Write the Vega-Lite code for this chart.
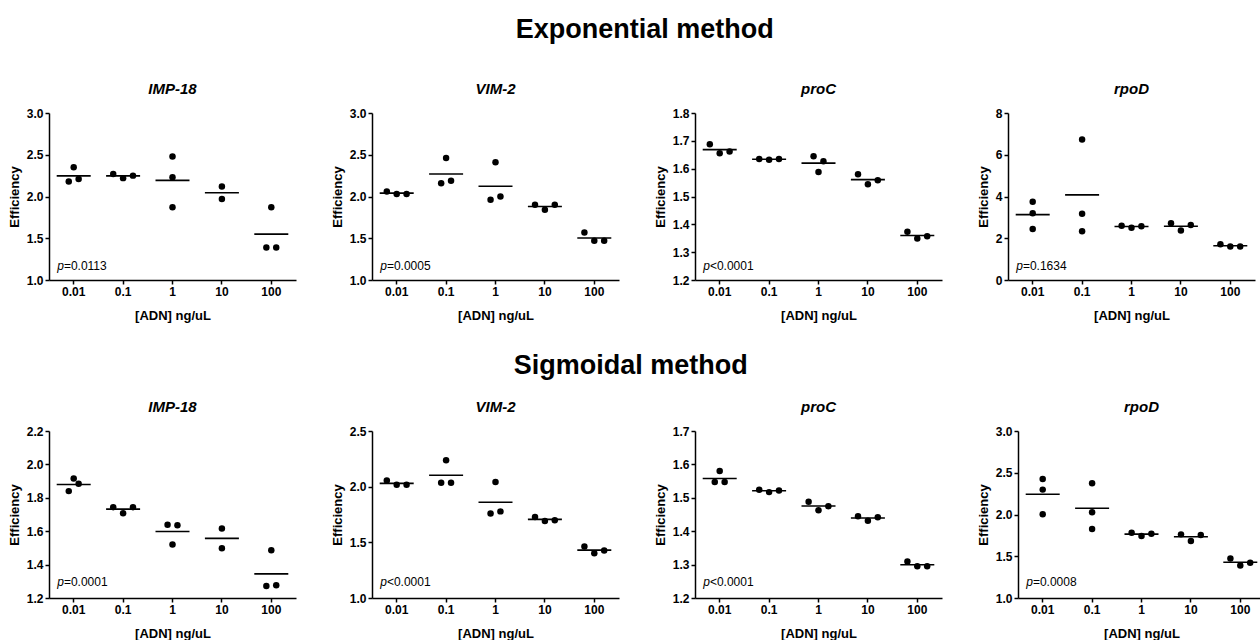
{
"$schema":"https://vega.github.io/schema/vega-lite/v6.json",
"background":"white",
"padding":{"left":8,"top":16,"right":0,"bottom":0},
"config":{"font":"Liberation Sans","view":{"stroke":null},
 "title":{"fontSize":15,"fontStyle":"italic","fontWeight":"bold","color":"black","offset":10,"anchor":"middle"},
 "axis":{"grid":false,"labelOverlap":false,"domainColor":"black","domainWidth":1.5,"tickColor":"black","tickWidth":1.5,"tickSize":4,"labelFontSize":12,"labelFontWeight":"bold","labelColor":"black","labelPadding":2,"titleFontSize":13,"titleFontWeight":"bold","titleColor":"black"},
 "axisX":{"labelAngle":0,"titlePadding":12},
 "axisY":{"titlePadding":5}},
"datasets":{
"pts":[
{"m":"E","g":"IMP-18","c":"0.01","v":2.35,"k":0},{"m":"E","g":"IMP-18","c":"0.01","v":2.18,"k":-1},{"m":"E","g":"IMP-18","c":"0.01","v":2.21,"k":1},
{"m":"E","g":"IMP-18","c":"0.1","v":2.27,"k":-2},{"m":"E","g":"IMP-18","c":"0.1","v":2.22,"k":0},{"m":"E","g":"IMP-18","c":"0.1","v":2.25,"k":2},
{"m":"E","g":"IMP-18","c":"1","v":2.48,"k":0},{"m":"E","g":"IMP-18","c":"1","v":2.23,"k":0},{"m":"E","g":"IMP-18","c":"1","v":1.87,"k":0},
{"m":"E","g":"IMP-18","c":"10","v":2.12,"k":0},{"m":"E","g":"IMP-18","c":"10","v":1.97,"k":0},
{"m":"E","g":"IMP-18","c":"100","v":1.87,"k":0},{"m":"E","g":"IMP-18","c":"100","v":1.39,"k":-1},{"m":"E","g":"IMP-18","c":"100","v":1.39,"k":1},
{"m":"E","g":"VIM-2","c":"0.01","v":2.06,"k":-2},{"m":"E","g":"VIM-2","c":"0.01","v":2.03,"k":0},{"m":"E","g":"VIM-2","c":"0.01","v":2.03,"k":2},
{"m":"E","g":"VIM-2","c":"0.1","v":2.46,"k":0},{"m":"E","g":"VIM-2","c":"0.1","v":2.16,"k":-1},{"m":"E","g":"VIM-2","c":"0.1","v":2.19,"k":1},
{"m":"E","g":"VIM-2","c":"1","v":2.41,"k":0},{"m":"E","g":"VIM-2","c":"1","v":1.96,"k":-1},{"m":"E","g":"VIM-2","c":"1","v":2.0,"k":1},
{"m":"E","g":"VIM-2","c":"10","v":1.9,"k":-2},{"m":"E","g":"VIM-2","c":"10","v":1.84,"k":0},{"m":"E","g":"VIM-2","c":"10","v":1.9,"k":2},
{"m":"E","g":"VIM-2","c":"100","v":1.57,"k":-2},{"m":"E","g":"VIM-2","c":"100","v":1.47,"k":0},{"m":"E","g":"VIM-2","c":"100","v":1.47,"k":2},
{"m":"E","g":"proC","c":"0.01","v":1.688,"k":-2},{"m":"E","g":"proC","c":"0.01","v":1.655,"k":0},{"m":"E","g":"proC","c":"0.01","v":1.662,"k":2},
{"m":"E","g":"proC","c":"0.1","v":1.635,"k":-2},{"m":"E","g":"proC","c":"0.1","v":1.632,"k":0},{"m":"E","g":"proC","c":"0.1","v":1.635,"k":2},
{"m":"E","g":"proC","c":"1","v":1.645,"k":-1},{"m":"E","g":"proC","c":"1","v":1.627,"k":1},{"m":"E","g":"proC","c":"1","v":1.588,"k":0},
{"m":"E","g":"proC","c":"10","v":1.58,"k":-2},{"m":"E","g":"proC","c":"10","v":1.544,"k":0},{"m":"E","g":"proC","c":"10","v":1.558,"k":2},
{"m":"E","g":"proC","c":"100","v":1.373,"k":-2},{"m":"E","g":"proC","c":"100","v":1.349,"k":0},{"m":"E","g":"proC","c":"100","v":1.357,"k":2},
{"m":"E","g":"rpoD","c":"0.01","v":3.75,"k":0},{"m":"E","g":"rpoD","c":"0.01","v":3.2,"k":0},{"m":"E","g":"rpoD","c":"0.01","v":2.44,"k":0},
{"m":"E","g":"rpoD","c":"0.1","v":6.73,"k":0},{"m":"E","g":"rpoD","c":"0.1","v":3.17,"k":0},{"m":"E","g":"rpoD","c":"0.1","v":2.34,"k":0},
{"m":"E","g":"rpoD","c":"1","v":2.6,"k":-2},{"m":"E","g":"rpoD","c":"1","v":2.5,"k":0},{"m":"E","g":"rpoD","c":"1","v":2.58,"k":2},
{"m":"E","g":"rpoD","c":"10","v":2.72,"k":-2},{"m":"E","g":"rpoD","c":"10","v":2.37,"k":0},{"m":"E","g":"rpoD","c":"10","v":2.63,"k":2},
{"m":"E","g":"rpoD","c":"100","v":1.71,"k":-2},{"m":"E","g":"rpoD","c":"100","v":1.6,"k":0},{"m":"E","g":"rpoD","c":"100","v":1.61,"k":2},
{"m":"S","g":"IMP-18","c":"0.01","v":1.916,"k":0},{"m":"S","g":"IMP-18","c":"0.01","v":1.84,"k":-1},{"m":"S","g":"IMP-18","c":"0.01","v":1.884,"k":1},
{"m":"S","g":"IMP-18","c":"0.1","v":1.744,"k":-2},{"m":"S","g":"IMP-18","c":"0.1","v":1.708,"k":0},{"m":"S","g":"IMP-18","c":"0.1","v":1.744,"k":2},
{"m":"S","g":"IMP-18","c":"1","v":1.638,"k":-1},{"m":"S","g":"IMP-18","c":"1","v":1.636,"k":1},{"m":"S","g":"IMP-18","c":"1","v":1.52,"k":0},
{"m":"S","g":"IMP-18","c":"10","v":1.616,"k":0},{"m":"S","g":"IMP-18","c":"10","v":1.498,"k":0},
{"m":"S","g":"IMP-18","c":"100","v":1.486,"k":0},{"m":"S","g":"IMP-18","c":"100","v":1.272,"k":-1},{"m":"S","g":"IMP-18","c":"100","v":1.276,"k":1},
{"m":"S","g":"VIM-2","c":"0.01","v":2.056,"k":-2},{"m":"S","g":"VIM-2","c":"0.01","v":2.017,"k":0},{"m":"S","g":"VIM-2","c":"0.01","v":2.017,"k":2},
{"m":"S","g":"VIM-2","c":"0.1","v":2.238,"k":0},{"m":"S","g":"VIM-2","c":"0.1","v":2.035,"k":-1},{"m":"S","g":"VIM-2","c":"0.1","v":2.035,"k":1},
{"m":"S","g":"VIM-2","c":"1","v":2.041,"k":0},{"m":"S","g":"VIM-2","c":"1","v":1.76,"k":-1},{"m":"S","g":"VIM-2","c":"1","v":1.778,"k":1},
{"m":"S","g":"VIM-2","c":"10","v":1.728,"k":-2},{"m":"S","g":"VIM-2","c":"10","v":1.692,"k":0},{"m":"S","g":"VIM-2","c":"10","v":1.698,"k":2},
{"m":"S","g":"VIM-2","c":"100","v":1.462,"k":-2},{"m":"S","g":"VIM-2","c":"100","v":1.402,"k":0},{"m":"S","g":"VIM-2","c":"100","v":1.426,"k":2},
{"m":"S","g":"proC","c":"0.01","v":1.58,"k":0},{"m":"S","g":"proC","c":"0.01","v":1.547,"k":-1},{"m":"S","g":"proC","c":"0.01","v":1.547,"k":1},
{"m":"S","g":"proC","c":"0.1","v":1.524,"k":-2},{"m":"S","g":"proC","c":"0.1","v":1.517,"k":0},{"m":"S","g":"proC","c":"0.1","v":1.522,"k":2},
{"m":"S","g":"proC","c":"1","v":1.488,"k":-2},{"m":"S","g":"proC","c":"1","v":1.463,"k":0},{"m":"S","g":"proC","c":"1","v":1.475,"k":2},
{"m":"S","g":"proC","c":"10","v":1.445,"k":-2},{"m":"S","g":"proC","c":"10","v":1.431,"k":0},{"m":"S","g":"proC","c":"10","v":1.442,"k":2},
{"m":"S","g":"proC","c":"100","v":1.309,"k":-2},{"m":"S","g":"proC","c":"100","v":1.295,"k":0},{"m":"S","g":"proC","c":"100","v":1.295,"k":2},
{"m":"S","g":"rpoD","c":"0.01","v":2.425,"k":0},{"m":"S","g":"rpoD","c":"0.01","v":2.298,"k":0},{"m":"S","g":"rpoD","c":"0.01","v":2.004,"k":0},
{"m":"S","g":"rpoD","c":"0.1","v":2.373,"k":0},{"m":"S","g":"rpoD","c":"0.1","v":2.028,"k":0},{"m":"S","g":"rpoD","c":"0.1","v":1.825,"k":0},
{"m":"S","g":"rpoD","c":"1","v":1.782,"k":-2},{"m":"S","g":"rpoD","c":"1","v":1.742,"k":0},{"m":"S","g":"rpoD","c":"1","v":1.77,"k":2},
{"m":"S","g":"rpoD","c":"10","v":1.762,"k":-2},{"m":"S","g":"rpoD","c":"10","v":1.683,"k":0},{"m":"S","g":"rpoD","c":"10","v":1.754,"k":2},
{"m":"S","g":"rpoD","c":"100","v":1.472,"k":-2},{"m":"S","g":"rpoD","c":"100","v":1.389,"k":0},{"m":"S","g":"rpoD","c":"100","v":1.421,"k":2}
],
"pv":[
{"m":"E","g":"IMP-18","t":"=0.0113"},{"m":"E","g":"VIM-2","t":"=0.0005"},{"m":"E","g":"proC","t":"<0.0001"},{"m":"E","g":"rpoD","t":"=0.1634"},
{"m":"S","g":"IMP-18","t":"=0.0001"},{"m":"S","g":"VIM-2","t":"<0.0001"},{"m":"S","g":"proC","t":"<0.0001"},{"m":"S","g":"rpoD","t":"=0.0008"}
]},
"spacing":30,
"vconcat":[
{"title":{"text":"Exponential method","fontSize":27,"fontStyle":"normal","fontWeight":"bold","anchor":"middle","offset":38,"dx":13},
 "spacing":35,
 "hconcat":[
 {"width":247,"height":167,"title":"IMP-18","layer":[
  {"data":{"name":"pts"},"transform":[{"filter":"datum.m=='E'&&datum.g=='IMP-18'"}],"mark":{"type":"point","filled":true,"size":42,"color":"black","opacity":1},
   "encoding":{"x":{"field":"c","type":"ordinal","sort":["0.01","0.1","1","10","100"],"scale":{"type":"band","paddingInner":0,"paddingOuter":0},"title":"[ADN] ng/uL"},
    "xOffset":{"field":"k","type":"quantitative","scale":{"domain":[-5,5]}},
    "y":{"field":"v","type":"quantitative","scale":{"domain":[1,3],"nice":false,"zero":false},"axis":{"values":[1,1.5,2,2.5,3],"tickCount":5,"format":".1f"},"title":"Efficiency"}}},
  {"data":{"name":"pts"},"transform":[{"filter":"datum.m=='E'&&datum.g=='IMP-18'"}],"mark":{"type":"tick","color":"black","size":34,"thickness":1.6,"opacity":1},
   "encoding":{"x":{"field":"c","type":"ordinal","sort":["0.01","0.1","1","10","100"],"title":"[ADN] ng/uL"},"y":{"aggregate":"mean","field":"v","type":"quantitative","title":"Efficiency"}}},
  {"data":{"name":"pv"},"transform":[{"filter":"datum.m=='E'&&datum.g=='IMP-18'"}],"mark":{"type":"text","text":"p","fontStyle":"italic","align":"left","baseline":"middle","dx":-16.5,"fontSize":12,"color":"black"},
   "encoding":{"x":{"datum":"0.01","type":"ordinal"},"y":{"datum":1.168,"type":"quantitative"}}},
  {"data":{"name":"pv"},"transform":[{"filter":"datum.m=='E'&&datum.g=='IMP-18'"}],"mark":{"type":"text","align":"left","baseline":"middle","dx":-9.8,"fontSize":12,"color":"black"},
   "encoding":{"x":{"datum":"0.01","type":"ordinal"},"y":{"datum":1.168,"type":"quantitative"},"text":{"field":"t"}}}
 ]},
 {"width":247,"height":167,"title":"VIM-2","layer":[
  {"data":{"name":"pts"},"transform":[{"filter":"datum.m=='E'&&datum.g=='VIM-2'"}],"mark":{"type":"point","filled":true,"size":42,"color":"black","opacity":1},
   "encoding":{"x":{"field":"c","type":"ordinal","sort":["0.01","0.1","1","10","100"],"scale":{"type":"band","paddingInner":0,"paddingOuter":0},"title":"[ADN] ng/uL"},
    "xOffset":{"field":"k","type":"quantitative","scale":{"domain":[-5,5]}},
    "y":{"field":"v","type":"quantitative","scale":{"domain":[1,3],"nice":false,"zero":false},"axis":{"values":[1,1.5,2,2.5,3],"tickCount":5,"format":".1f"},"title":"Efficiency"}}},
  {"data":{"name":"pts"},"transform":[{"filter":"datum.m=='E'&&datum.g=='VIM-2'"}],"mark":{"type":"tick","color":"black","size":34,"thickness":1.6,"opacity":1},
   "encoding":{"x":{"field":"c","type":"ordinal","sort":["0.01","0.1","1","10","100"],"title":"[ADN] ng/uL"},"y":{"aggregate":"mean","field":"v","type":"quantitative","title":"Efficiency"}}},
  {"data":{"name":"pv"},"transform":[{"filter":"datum.m=='E'&&datum.g=='VIM-2'"}],"mark":{"type":"text","text":"p","fontStyle":"italic","align":"left","baseline":"middle","dx":-16.5,"fontSize":12,"color":"black"},
   "encoding":{"x":{"datum":"0.01","type":"ordinal"},"y":{"datum":1.168,"type":"quantitative"}}},
  {"data":{"name":"pv"},"transform":[{"filter":"datum.m=='E'&&datum.g=='VIM-2'"}],"mark":{"type":"text","align":"left","baseline":"middle","dx":-9.8,"fontSize":12,"color":"black"},
   "encoding":{"x":{"datum":"0.01","type":"ordinal"},"y":{"datum":1.168,"type":"quantitative"},"text":{"field":"t"}}}
 ]},
 {"width":247,"height":167,"title":"proC","layer":[
  {"data":{"name":"pts"},"transform":[{"filter":"datum.m=='E'&&datum.g=='proC'"}],"mark":{"type":"point","filled":true,"size":42,"color":"black","opacity":1},
   "encoding":{"x":{"field":"c","type":"ordinal","sort":["0.01","0.1","1","10","100"],"scale":{"type":"band","paddingInner":0,"paddingOuter":0},"title":"[ADN] ng/uL"},
    "xOffset":{"field":"k","type":"quantitative","scale":{"domain":[-5,5]}},
    "y":{"field":"v","type":"quantitative","scale":{"domain":[1.2,1.8],"nice":false,"zero":false},"axis":{"values":[1.2,1.3,1.4,1.5,1.6,1.7,1.8],"tickCount":7,"format":".1f"},"title":"Efficiency"}}},
  {"data":{"name":"pts"},"transform":[{"filter":"datum.m=='E'&&datum.g=='proC'"}],"mark":{"type":"tick","color":"black","size":34,"thickness":1.6,"opacity":1},
   "encoding":{"x":{"field":"c","type":"ordinal","sort":["0.01","0.1","1","10","100"],"title":"[ADN] ng/uL"},"y":{"aggregate":"mean","field":"v","type":"quantitative","title":"Efficiency"}}},
  {"data":{"name":"pv"},"transform":[{"filter":"datum.m=='E'&&datum.g=='proC'"}],"mark":{"type":"text","text":"p","fontStyle":"italic","align":"left","baseline":"middle","dx":-16.5,"fontSize":12,"color":"black"},
   "encoding":{"x":{"datum":"0.01","type":"ordinal"},"y":{"datum":1.25,"type":"quantitative"}}},
  {"data":{"name":"pv"},"transform":[{"filter":"datum.m=='E'&&datum.g=='proC'"}],"mark":{"type":"text","align":"left","baseline":"middle","dx":-9.8,"fontSize":12,"color":"black"},
   "encoding":{"x":{"datum":"0.01","type":"ordinal"},"y":{"datum":1.25,"type":"quantitative"},"text":{"field":"t"}}}
 ]},
 {"width":247,"height":167,"title":"rpoD","layer":[
  {"data":{"name":"pts"},"transform":[{"filter":"datum.m=='E'&&datum.g=='rpoD'"}],"mark":{"type":"point","filled":true,"size":42,"color":"black","opacity":1},
   "encoding":{"x":{"field":"c","type":"ordinal","sort":["0.01","0.1","1","10","100"],"scale":{"type":"band","paddingInner":0,"paddingOuter":0},"title":"[ADN] ng/uL"},
    "xOffset":{"field":"k","type":"quantitative","scale":{"domain":[-5,5]}},
    "y":{"field":"v","type":"quantitative","scale":{"domain":[0,8],"nice":false,"zero":false},"axis":{"values":[0,2,4,6,8],"tickCount":5,"format":"d"},"title":"Efficiency"}}},
  {"data":{"name":"pts"},"transform":[{"filter":"datum.m=='E'&&datum.g=='rpoD'"}],"mark":{"type":"tick","color":"black","size":34,"thickness":1.6,"opacity":1},
   "encoding":{"x":{"field":"c","type":"ordinal","sort":["0.01","0.1","1","10","100"],"title":"[ADN] ng/uL"},"y":{"aggregate":"mean","field":"v","type":"quantitative","title":"Efficiency"}}},
  {"data":{"name":"pv"},"transform":[{"filter":"datum.m=='E'&&datum.g=='rpoD'"}],"mark":{"type":"text","text":"p","fontStyle":"italic","align":"left","baseline":"middle","dx":-16.5,"fontSize":12,"color":"black"},
   "encoding":{"x":{"datum":"0.01","type":"ordinal"},"y":{"datum":0.67,"type":"quantitative"}}},
  {"data":{"name":"pv"},"transform":[{"filter":"datum.m=='E'&&datum.g=='rpoD'"}],"mark":{"type":"text","align":"left","baseline":"middle","dx":-9.8,"fontSize":12,"color":"black"},
   "encoding":{"x":{"datum":"0.01","type":"ordinal"},"y":{"datum":0.67,"type":"quantitative"},"text":{"field":"t"}}}
 ]}
 ]},
{"title":{"text":"Sigmoidal method","fontSize":27,"fontStyle":"normal","fontWeight":"bold","anchor":"middle","offset":20,"dx":-6},
 "spacing":35,
 "hconcat":[
 {"width":247,"height":167,"title":"IMP-18","layer":[
  {"data":{"name":"pts"},"transform":[{"filter":"datum.m=='S'&&datum.g=='IMP-18'"}],"mark":{"type":"point","filled":true,"size":42,"color":"black","opacity":1},
   "encoding":{"x":{"field":"c","type":"ordinal","sort":["0.01","0.1","1","10","100"],"scale":{"type":"band","paddingInner":0,"paddingOuter":0},"title":"[ADN] ng/uL"},
    "xOffset":{"field":"k","type":"quantitative","scale":{"domain":[-5,5]}},
    "y":{"field":"v","type":"quantitative","scale":{"domain":[1.2,2.2],"nice":false,"zero":false},"axis":{"values":[1.2,1.4,1.6,1.8,2.0,2.2],"tickCount":6,"format":".1f"},"title":"Efficiency"}}},
  {"data":{"name":"pts"},"transform":[{"filter":"datum.m=='S'&&datum.g=='IMP-18'"}],"mark":{"type":"tick","color":"black","size":34,"thickness":1.6,"opacity":1},
   "encoding":{"x":{"field":"c","type":"ordinal","sort":["0.01","0.1","1","10","100"],"title":"[ADN] ng/uL"},"y":{"aggregate":"mean","field":"v","type":"quantitative","title":"Efficiency"}}},
  {"data":{"name":"pv"},"transform":[{"filter":"datum.m=='S'&&datum.g=='IMP-18'"}],"mark":{"type":"text","text":"p","fontStyle":"italic","align":"left","baseline":"middle","dx":-16.5,"fontSize":12,"color":"black"},
   "encoding":{"x":{"datum":"0.01","type":"ordinal"},"y":{"datum":1.296,"type":"quantitative"}}},
  {"data":{"name":"pv"},"transform":[{"filter":"datum.m=='S'&&datum.g=='IMP-18'"}],"mark":{"type":"text","align":"left","baseline":"middle","dx":-9.8,"fontSize":12,"color":"black"},
   "encoding":{"x":{"datum":"0.01","type":"ordinal"},"y":{"datum":1.296,"type":"quantitative"},"text":{"field":"t"}}}
 ]},
 {"width":247,"height":167,"title":"VIM-2","layer":[
  {"data":{"name":"pts"},"transform":[{"filter":"datum.m=='S'&&datum.g=='VIM-2'"}],"mark":{"type":"point","filled":true,"size":42,"color":"black","opacity":1},
   "encoding":{"x":{"field":"c","type":"ordinal","sort":["0.01","0.1","1","10","100"],"scale":{"type":"band","paddingInner":0,"paddingOuter":0},"title":"[ADN] ng/uL"},
    "xOffset":{"field":"k","type":"quantitative","scale":{"domain":[-5,5]}},
    "y":{"field":"v","type":"quantitative","scale":{"domain":[1,2.5],"nice":false,"zero":false},"axis":{"values":[1,1.5,2,2.5],"tickCount":4,"format":".1f"},"title":"Efficiency"}}},
  {"data":{"name":"pts"},"transform":[{"filter":"datum.m=='S'&&datum.g=='VIM-2'"}],"mark":{"type":"tick","color":"black","size":34,"thickness":1.6,"opacity":1},
   "encoding":{"x":{"field":"c","type":"ordinal","sort":["0.01","0.1","1","10","100"],"title":"[ADN] ng/uL"},"y":{"aggregate":"mean","field":"v","type":"quantitative","title":"Efficiency"}}},
  {"data":{"name":"pv"},"transform":[{"filter":"datum.m=='S'&&datum.g=='VIM-2'"}],"mark":{"type":"text","text":"p","fontStyle":"italic","align":"left","baseline":"middle","dx":-16.5,"fontSize":12,"color":"black"},
   "encoding":{"x":{"datum":"0.01","type":"ordinal"},"y":{"datum":1.144,"type":"quantitative"}}},
  {"data":{"name":"pv"},"transform":[{"filter":"datum.m=='S'&&datum.g=='VIM-2'"}],"mark":{"type":"text","align":"left","baseline":"middle","dx":-9.8,"fontSize":12,"color":"black"},
   "encoding":{"x":{"datum":"0.01","type":"ordinal"},"y":{"datum":1.144,"type":"quantitative"},"text":{"field":"t"}}}
 ]},
 {"width":247,"height":167,"title":"proC","layer":[
  {"data":{"name":"pts"},"transform":[{"filter":"datum.m=='S'&&datum.g=='proC'"}],"mark":{"type":"point","filled":true,"size":42,"color":"black","opacity":1},
   "encoding":{"x":{"field":"c","type":"ordinal","sort":["0.01","0.1","1","10","100"],"scale":{"type":"band","paddingInner":0,"paddingOuter":0},"title":"[ADN] ng/uL"},
    "xOffset":{"field":"k","type":"quantitative","scale":{"domain":[-5,5]}},
    "y":{"field":"v","type":"quantitative","scale":{"domain":[1.2,1.7],"nice":false,"zero":false},"axis":{"values":[1.2,1.3,1.4,1.5,1.6,1.7],"tickCount":6,"format":".1f"},"title":"Efficiency"}}},
  {"data":{"name":"pts"},"transform":[{"filter":"datum.m=='S'&&datum.g=='proC'"}],"mark":{"type":"tick","color":"black","size":34,"thickness":1.6,"opacity":1},
   "encoding":{"x":{"field":"c","type":"ordinal","sort":["0.01","0.1","1","10","100"],"title":"[ADN] ng/uL"},"y":{"aggregate":"mean","field":"v","type":"quantitative","title":"Efficiency"}}},
  {"data":{"name":"pv"},"transform":[{"filter":"datum.m=='S'&&datum.g=='proC'"}],"mark":{"type":"text","text":"p","fontStyle":"italic","align":"left","baseline":"middle","dx":-16.5,"fontSize":12,"color":"black"},
   "encoding":{"x":{"datum":"0.01","type":"ordinal"},"y":{"datum":1.248,"type":"quantitative"}}},
  {"data":{"name":"pv"},"transform":[{"filter":"datum.m=='S'&&datum.g=='proC'"}],"mark":{"type":"text","align":"left","baseline":"middle","dx":-9.8,"fontSize":12,"color":"black"},
   "encoding":{"x":{"datum":"0.01","type":"ordinal"},"y":{"datum":1.248,"type":"quantitative"},"text":{"field":"t"}}}
 ]},
 {"width":247,"height":167,"title":"rpoD","layer":[
  {"data":{"name":"pts"},"transform":[{"filter":"datum.m=='S'&&datum.g=='rpoD'"}],"mark":{"type":"point","filled":true,"size":42,"color":"black","opacity":1},
   "encoding":{"x":{"field":"c","type":"ordinal","sort":["0.01","0.1","1","10","100"],"scale":{"type":"band","paddingInner":0,"paddingOuter":0},"title":"[ADN] ng/uL"},
    "xOffset":{"field":"k","type":"quantitative","scale":{"domain":[-5,5]}},
    "y":{"field":"v","type":"quantitative","scale":{"domain":[1,3],"nice":false,"zero":false},"axis":{"values":[1,1.5,2,2.5,3],"tickCount":5,"format":".1f"},"title":"Efficiency"}}},
  {"data":{"name":"pts"},"transform":[{"filter":"datum.m=='S'&&datum.g=='rpoD'"}],"mark":{"type":"tick","color":"black","size":34,"thickness":1.6,"opacity":1},
   "encoding":{"x":{"field":"c","type":"ordinal","sort":["0.01","0.1","1","10","100"],"title":"[ADN] ng/uL"},"y":{"aggregate":"mean","field":"v","type":"quantitative","title":"Efficiency"}}},
  {"data":{"name":"pv"},"transform":[{"filter":"datum.m=='S'&&datum.g=='rpoD'"}],"mark":{"type":"text","text":"p","fontStyle":"italic","align":"left","baseline":"middle","dx":-16.5,"fontSize":12,"color":"black"},
   "encoding":{"x":{"datum":"0.01","type":"ordinal"},"y":{"datum":1.192,"type":"quantitative"}}},
  {"data":{"name":"pv"},"transform":[{"filter":"datum.m=='S'&&datum.g=='rpoD'"}],"mark":{"type":"text","align":"left","baseline":"middle","dx":-9.8,"fontSize":12,"color":"black"},
   "encoding":{"x":{"datum":"0.01","type":"ordinal"},"y":{"datum":1.192,"type":"quantitative"},"text":{"field":"t"}}}
 ]}
 ]}
]
}
